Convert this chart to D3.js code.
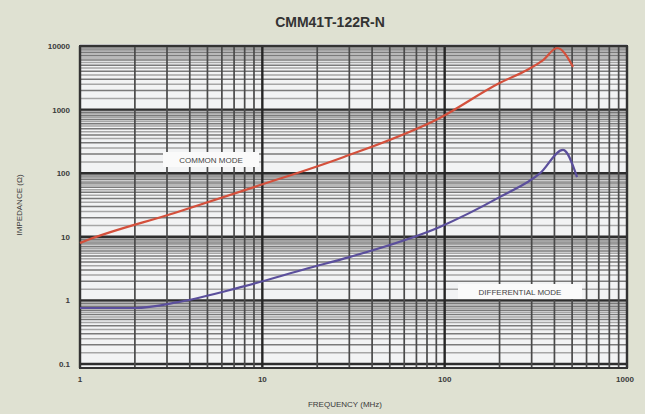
<!DOCTYPE html>
<html><head><meta charset="utf-8">
<script src="https://cdn.jsdelivr.net/npm/d3@7"></script>
<style>
html,body{margin:0;padding:0;background:#dfe1d2;}
svg{display:block;}
text{font-family:"Liberation Sans",Arial,sans-serif;}
</style></head>
<body>
<svg id="c" width="645" height="414"></svg>
<script>
const title = "CMM41T-122R-N";
const xTitle = "FREQUENCY (MHz)";
const yTitle = "IMPEDANCE (\u03A9)";
const xTicks = [1, 10, 100, 1000];
const xTickLabels = ["1", "10", "100", "1000"];
const yTicks = [0.1, 1, 10, 100, 1000, 10000];
const yTickLabels = ["0.1", "1", "10", "100", "1000", "10000"];
const seriesNames = ["COMMON MODE", "DIFFERENTIAL MODE"];
const freqCM = [1, 1.1, 3.3, 9.1, 28, 94, 200, 283, 347, 414, 506];
const zCM = [8.0, 8.9, 23.7, 61, 180, 740, 2620, 4200, 6000, 9300, 4700];
const freqDM = [1, 2.0, 3.45, 7.7, 17.8, 30, 94, 200, 334, 446, 532];
const zDM = [0.76, 0.76, 0.94, 1.63, 3.2, 4.8, 14.3, 42, 100, 232, 87];

const svg = d3.select("#c");
const L = 80, R = 627, T = 46, B = 364;
const x = d3.scaleLog().domain([1, 1000]).range([L, R]);
const y = d3.scaleLog().domain([0.1, 10000]).range([B, T]);

// plot background
svg.append("rect").attr("x", L).attr("y", T - 2).attr("width", R - L).attr("height", B - T + 6)
  .attr("fill", "#f2f3f4");

const g = svg.append("g");
// horizontal grid
const hLines = [];
for (let d = -1; d < 4; d++) for (let k = 1; k < 10; k += 0.5) hLines.push({v: k * Math.pow(10, d), major: k === 1, half: k % 1 !== 0});
hLines.push({v: 10000, major: true});
hLines.forEach(h => {
  g.append("line").attr("x1", L).attr("x2", R).attr("y1", y(h.v)).attr("y2", y(h.v))
    .attr("stroke", h.major ? "#2e2e2e" : (h.half ? "#a6a6a6" : "#7a7a7a"))
    .attr("stroke-width", h.major ? 2.4 : 1.5);
});
// vertical grid
const vLines = [];
for (let d = 0; d < 3; d++) for (let k = 1; k < 10; k++) vLines.push({v: k * Math.pow(10, d), major: k === 1});
vLines.push({v: 1000, major: true});
vLines.forEach(h => {
  g.append("line").attr("y1", T).attr("y2", B + 4).attr("x1", x(h.v)).attr("x2", x(h.v))
    .attr("stroke", h.major ? "#262626" : "#4a4a4a")
    .attr("stroke-width", h.major ? 2.4 : 1.7);
});
// frame
svg.append("rect").attr("x", L).attr("y", T).attr("width", R - L).attr("height", B + 4 - T)
  .attr("fill", "none").attr("stroke", "#333").attr("stroke-width", 2);

// curves
const line = d3.line().x(d => x(d[0])).y(d => y(d[1])).curve(d3.curveMonotoneX);
svg.append("path").datum(freqCM.map((f, i) => [f, zCM[i]])).attr("d", line)
  .attr("fill", "none").attr("stroke", "#d4503c").attr("stroke-width", 2.2);
svg.append("path").datum(freqDM.map((f, i) => [f, zDM[i]])).attr("d", line)
  .attr("fill", "none").attr("stroke", "#5b4f9c").attr("stroke-width", 2.2);

// series labels
function label(txt, cx, cy, w) {
  svg.append("rect").attr("x", cx - w / 2).attr("y", cy - 8).attr("width", w).attr("height", 15)
    .attr("fill", "#fafafa");
  svg.append("text").attr("x", cx).attr("y", cy + 3).attr("text-anchor", "middle")
    .attr("font-size", 8).attr("fill", "#444").text(txt);
}
label(seriesNames[0], 211, 160, 96);
label(seriesNames[1], 520, 292, 124);

// ticks
svg.selectAll(".yt").data(yTicks).enter().append("text")
  .attr("x", L - 10).attr("y", d => y(d) + 3).attr("text-anchor", "end")
  .attr("font-size", 8).attr("font-weight", "bold").attr("fill", "#3a3a3a")
  .text((d, i) => yTickLabels[i]);
svg.selectAll(".xt").data(xTicks).enter().append("text")
  .attr("x", d => x(d) - (d === 1000 ? 2 : 0)).attr("y", B + 18).attr("text-anchor", "middle")
  .attr("font-size", 8).attr("font-weight", "bold").attr("fill", "#3a3a3a")
  .text((d, i) => xTickLabels[i]);

// titles
svg.append("text").attr("x", 330).attr("y", 27).attr("text-anchor", "middle")
  .attr("font-size", 14).attr("font-weight", "bold").attr("fill", "#333").text(title);
svg.append("text").attr("x", 345).attr("y", 407).attr("text-anchor", "middle")
  .attr("font-size", 8).attr("fill", "#3a3a3a").text(xTitle);
svg.append("text").attr("transform", "translate(22,205) rotate(-90)").attr("text-anchor", "middle")
  .attr("font-size", 8).attr("fill", "#3a3a3a").text(yTitle);
</script>
</body></html>
